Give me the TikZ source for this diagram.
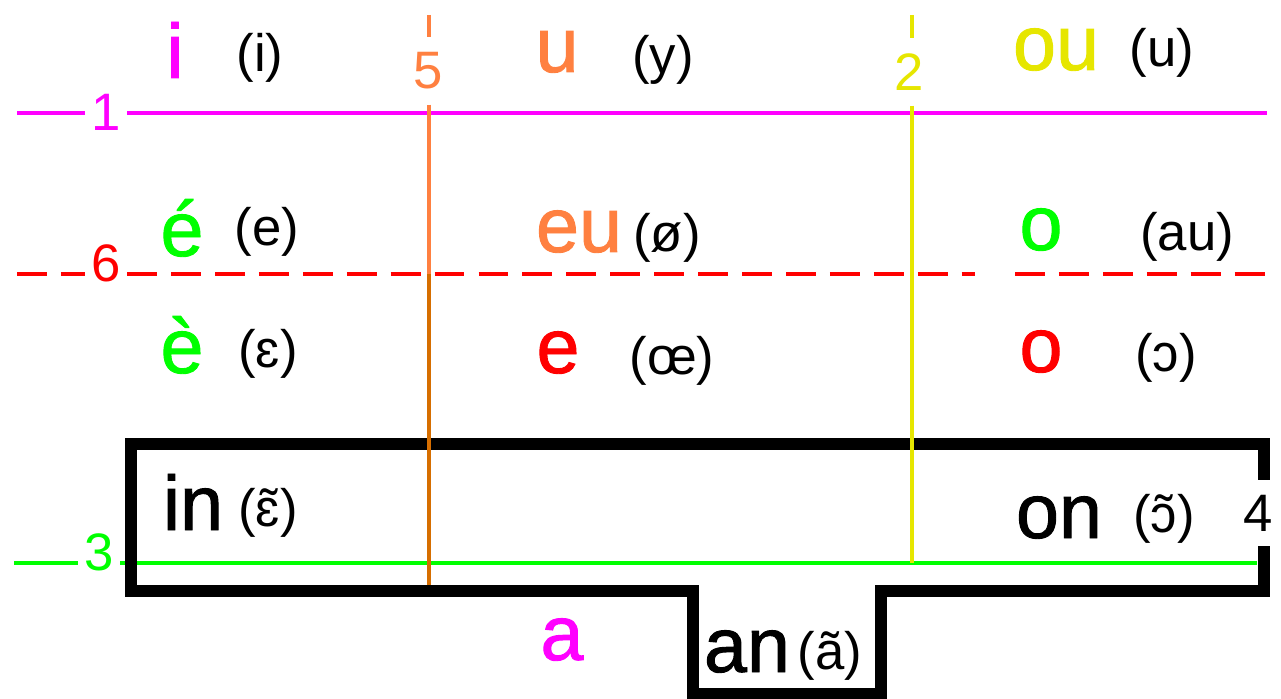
\documentclass[tikz,border=0pt]{standalone}
\usepackage{fontspec}
\setmainfont{Liberation Sans}
\newfontfamily\vowelfont[FakeBold=1.2]{Liberation Sans}
\usetikzlibrary{positioning,calc}
\definecolor{vMag}{RGB}{255,0,255}
\definecolor{vOrange}{RGB}{255,128,64}
\definecolor{vOrangeDk}{RGB}{214,110,0}
\definecolor{vYellow}{RGB}{230,230,0}
\definecolor{vGreen}{RGB}{0,255,0}
\definecolor{vRed}{RGB}{255,0,0}

\begin{document}
\begin{tikzpicture}[
  x=0.02cm,y=-0.02cm,
  vowel/.style={anchor=base,inner sep=0pt,font=\vowelfont\fontsize{44}{44}\selectfont},
  ipa/.style={anchor=base,inner sep=0pt,font=\fontsize{30}{30}\selectfont},
  num/.style={inner xsep=3.5pt,inner ysep=8.5pt,font=\fontsize{30}{30}\selectfont},
  guide/.style={line width=2.1pt},
  rdash/.style={guide,draw=vRed,dash pattern=on 17pt off 8pt},
  frame/.style={line width=6.8pt,line join=miter}
]
\useasboundingbox (0,0) rectangle (1281,699);

% ==========  horizontal guides  ==========
\node[num,text=vMag] (n1) at (106,112) {1};
\coordinate (l1a) at (17,113);
\coordinate (l1b) at (1267,113);
\draw[guide,vMag] (l1a) -- (l1a -| n1.west);
\draw[guide,vMag] (l1a -| n1.east) -- (l1b);

\node[num,text=vRed] (n6) at (106,263) {6};
\coordinate (l6a) at (17,274);
\coordinate (l6b) at (975,274);
\coordinate (l6c) at (1015,274);
\coordinate (l6d) at (1267,274);
\draw[rdash] (l6a) -- (l6a -| n6.west);
\draw[rdash] (l6a -| n6.east) -- (l6b);
\draw[rdash] (l6c) -- (l6d);

\node[num,text=vGreen] (n3) at (99,552) {3};
\coordinate (l3a) at (14,563);
\coordinate (l3b) at (1257,563);
\draw[guide,vGreen] (l3a) -- (l3a -| n3.west);
\draw[guide,vGreen] (l3a -| n3.east) -- (l3b);

% ==========  nasal frame  ==========
\node[num] (n4) at (1258,513) {4};
\coordinate (fTL) at (131,444);
\coordinate (fTR) at (1264,444);
\coordinate (fBR) at (1264,591);
\coordinate (fBL) at (131,591);
\coordinate (anL) at (693,694);
\coordinate (anR) at (881,694);
\draw[frame] (n4.north -| fTR) -- (fTR) -- (fTL) -- (fBL) -- (fBL -| anL)
  -- (anL) -- (anR) -- (fBR -| anR) -- (fBR) -- (n4.south -| fBR);

% ==========  vertical guides (over the frame)  ==========
\node[num,text=vOrange] (n5) at (428,71) {5};
\coordinate (l5a) at (429,15);
\coordinate (l5b) at (429,274);
\coordinate (l5c) at (429,585);
\draw[guide,vOrange] (l5a) -- (l5a |- n5.north);
\draw[guide,vOrange] (l5a |- n5.south) -- (l5b);
\draw[guide,vOrangeDk] (l5b) -- (l5c);

\node[num,text=vYellow] (n2) at (909,72) {2};
\coordinate (l2a) at (912,15);
\coordinate (l2b) at (912,563);
\draw[guide,vYellow] (l2a) -- (l2a |- n2.north);
\draw[guide,vYellow] (l2a |- n2.south) -- (l2b);

% ==========  ROW 1  ==========
\node[vowel,text=vMag] (vI) at (175,78) {i};
\node[ipa] (pI) at (260,72) {(i)};
\node[vowel,text=vOrange] (vU) at (557,72) {u};
\node[ipa] (pY) at (663,74) {(y)};
\node[vowel,text=vYellow] (vOu) at (1056,70) {ou};
\node[ipa] (pU) at (1162,67) {(u)};

% ==========  ROW 2  ==========
\node[vowel,text=vGreen] (vEa) at (182,256) {é};
\node[ipa] (pE) at (267,246) {(e)};
\node[vowel,text=vOrange] (vEu) at (579,252) {eu};
\node[ipa] (pOe) at (667,252) {(ø)};
\node[vowel,text=vGreen] (vOg) at (1041,250) {o};
\node[ipa] (pAu) at (1187,251) {(au)};

% ==========  ROW 3  ==========
\node[vowel,text=vGreen] (vEg) at (182,373) {è};
\node[ipa] (pEps) at (268,367) {(ɛ)};
\node[vowel,text=vRed] (vE) at (558,373) {e};
\node[ipa] (pOE) at (672,374) {(œ)};
\node[vowel,text=vRed] (vOr) at (1041,372) {o};
\node[ipa] (pO) at (1166,371) {(ɔ)};

% ==========  nasals  ==========
\node[vowel] (vIn) at (193,530) {in};
\node[ipa] (pIn) at (268,526) {(ɛ̃)};
\node[vowel] (vOn) at (1059,538) {on};
\node[ipa] (pOn) at (1164,532) {(ɔ̃)};

\node[vowel,text=vMag] (vA) at (562,660) {a};
\node[vowel] (vAn) at (747,672) {an};
\node[ipa] (pAn) at (830,669) {(ã)};

\end{tikzpicture}
\end{document}
